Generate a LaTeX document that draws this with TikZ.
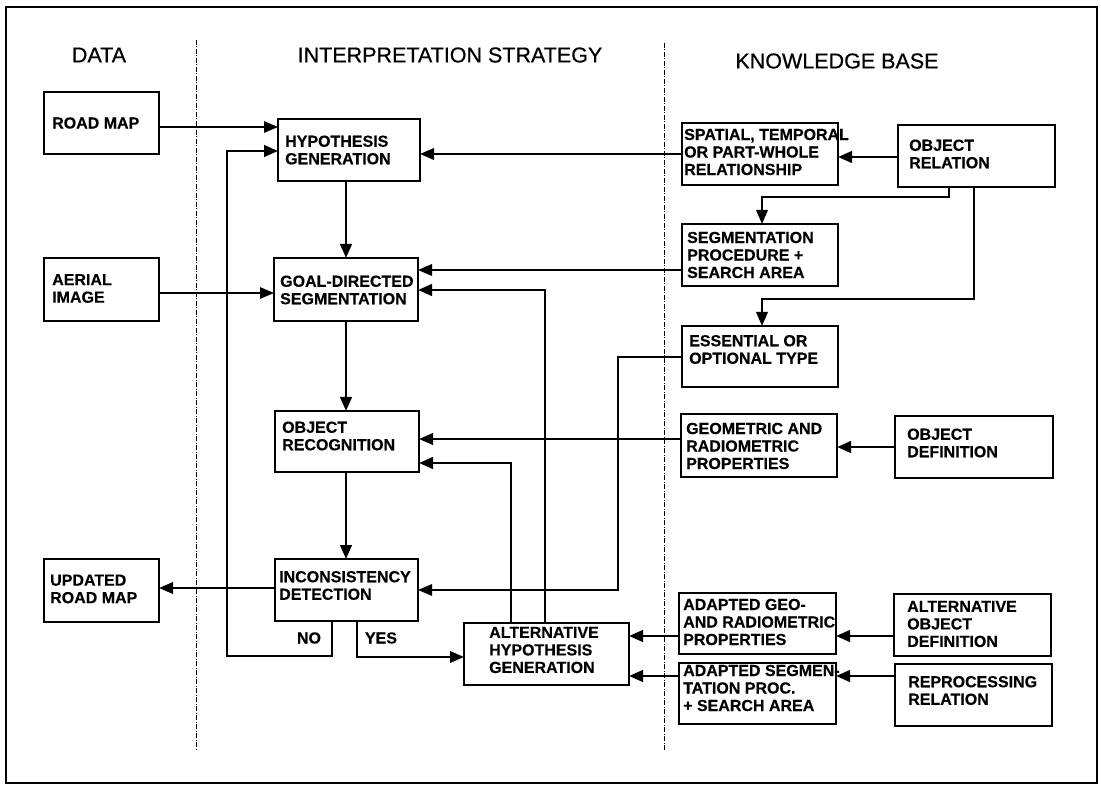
\documentclass[tikz,border=0pt]{standalone}
\usepackage{fontspec}
\setmainfont{Liberation Sans}
\newfontfamily\hdrfont{Liberation Sans}[FakeBold=0.6]
\newfontfamily\lblfont{Liberation Sans}[BoldFeatures={FakeBold=0.3}]
\usetikzlibrary{arrows.meta}

\tikzset{
  box/.style={draw, rectangle, line width=2pt, inner sep=0pt, outer sep=0pt},
  lbl/.style={font=\fontsize{16}{17.5}\selectfont\lblfont\bfseries, align=left, inner sep=0pt, anchor=west},
  tag/.style={font=\fontsize{16}{17.5}\selectfont\lblfont\bfseries, inner sep=0pt},
  hdr/.style={font=\fontsize{21.5}{24}\selectfont\hdrfont, inner sep=0pt},
  tip/.style={-{Triangle[length=14pt,width=11.5pt]}},
  wire/.style={tip, line width=1.4pt},
  wirem/.style={tip, line width=2pt},
  wireb/.style={tip, line width=2.8pt},
  divider/.style={line width=0.8pt, dash pattern=on 5pt off 1.5pt on 1pt off 1.5pt},
}

\begin{document}
\begin{tikzpicture}[x=1pt, y=-1pt]
\useasboundingbox (0,0) rectangle (1101,786);
\fill[white] (0,0) rectangle (1101,786);

% outer frame
\draw[line width=2.6pt] (6,7) rectangle (1097,783);

% column headings and separators
\node[hdr] (h-data) at (99,55) {DATA};
\node[hdr] (h-strat) at (450,55) {INTERPRETATION STRATEGY};
\node[hdr] (h-kb) at (837,61) {KNOWLEDGE BASE};
\draw[divider] (196,40) -- (196,750);
\draw[divider] (664,43) -- (664,750);

% data column
\node[box, minimum width=115pt, minimum height=62pt] (roadmap) at (101.5,123) {};
\node[box, minimum width=115pt, minimum height=63pt] (aerial) at (101.5,289.5) {};
\node[box, minimum width=115pt, minimum height=63pt] (updated) at (101.5,590.5) {};

% interpretation strategy column
\node[box, minimum width=142pt, minimum height=62pt] (hyp) at (349,150) {};
\node[box, minimum width=144pt, minimum height=63pt] (goal) at (346,289.5) {};
\node[box, minimum width=144pt, minimum height=61pt] (objrec) at (347,441.5) {};
\node[box, minimum width=143pt, minimum height=62pt] (incons) at (346.5,590) {};
\node[box, minimum width=165pt, minimum height=62pt] (alt) at (546.5,654) {};

% knowledge base column
\node[box, minimum width=156pt, minimum height=62pt] (spatial) at (760,154) {};
\node[box, minimum width=156pt, minimum height=62pt] (segproc) at (760,255) {};
\node[box, minimum width=156pt, minimum height=61pt] (essential) at (760,356.5) {};
\node[box, minimum width=156pt, minimum height=63pt] (geometric) at (759,445.5) {};
\node[box, minimum width=157pt, minimum height=62pt] (objrel) at (976.5,156) {};
\node[box, minimum width=158pt, minimum height=62pt] (objdef) at (974,447) {};
\node[box, minimum width=157pt, minimum height=61pt] (adgeo) at (757.5,623.5) {};
\node[box, minimum width=157pt, minimum height=61pt] (adseg) at (757.5,693.5) {};
\node[box, minimum width=157pt, minimum height=62pt] (altobj) at (972.5,625) {};
\node[box, minimum width=157pt, minimum height=62pt] (reproc) at (973.5,695) {};

% box labels
\node[lbl] (roadmap-t) at (52,123) {ROAD MAP};
\node[lbl] (aerial-t) at (52,288.5) {AERIAL\\IMAGE};
\node[lbl] (updated-t) at (50,589) {UPDATED\\ROAD MAP};
\node[lbl] (hyp-t) at (285,150) {HYPOTHESIS\\GENERATION};
\node[lbl] (goal-t) at (280,290) {GOAL-DIRECTED\\SEGMENTATION};
\node[lbl] (objrec-t) at (282,436) {OBJECT\\RECOGNITION};
\node[lbl] (incons-t) at (279,585.5) {INCONSISTENCY\\DETECTION};
\node[lbl] (alt-t) at (489,650) {ALTERNATIVE\\HYPOTHESIS\\GENERATION};
\node[lbl] (spatial-t) at (684,152) {SPATIAL, TEMPORAL\\OR PART-WHOLE\\RELATIONSHIP};
\node[lbl] (segproc-t) at (687,255) {SEGMENTATION\\PROCEDURE +\\SEARCH AREA};
\node[lbl] (essential-t) at (689,349.5) {ESSENTIAL OR\\OPTIONAL TYPE};
\node[lbl] (geometric-t) at (686,446) {GEOMETRIC AND\\RADIOMETRIC\\PROPERTIES};
\node[lbl] (objrel-t) at (909,154) {OBJECT\\RELATION};
\node[lbl] (objdef-t) at (907,443) {OBJECT\\DEFINITION};
\node[lbl] (adgeo-t) at (683,622) {ADAPTED GEO-\\AND RADIOMETRIC\\PROPERTIES};
\node[lbl] (adseg-t) at (683,688) {ADAPTED SEGMEN-\\TATION PROC.\\+ SEARCH AREA};
\node[lbl] (altobj-t) at (907,624) {ALTERNATIVE\\OBJECT\\DEFINITION};
\node[lbl] (reproc-t) at (908,690.5) {REPROCESSING\\RELATION};
\node[tag] (no) at (309,638) {NO};
\node[tag] (yes) at (381,638) {YES};

% data inputs and output
\draw[wire] (roadmap.east |- 0,127) -- (hyp.west |- 0,127);
\draw[wire] (aerial.east |- 0,293) -- (goal.west |- 0,293);
\draw[wirem] (incons.west |- 0,588) -- (updated.east |- 0,588);

% main processing chain
\draw[wireb] (hyp.south -| 346,0) -- (goal.north -| 346,0);
\draw[wireb] (goal.south -| 346,0) -- (objrec.north -| 346,0);
\draw[wireb] (objrec.south -| 346,0) -- (incons.north -| 346,0);

% decision branches
\draw[wireb] (incons.south -| 332,0) -- (332,656) -- (227,656) -- (227,151) -- (hyp.west |- 0,151);
\draw[wirem] (incons.south -| 357,0) -- (357,657) -- (alt.west |- 0,657);

% feedback from alternative hypothesis
\draw[wireb] (alt.north -| 545,0) -- (545,290) -- (goal.east |- 0,290);
\draw[wireb] (alt.north -| 511,0) -- (511,463) -- (objrec.east |- 0,463);

% knowledge base to strategy
\draw[wirem] (spatial.west |- 0,154) -- (hyp.east |- 0,154);
\draw[wirem] (segproc.west |- 0,270) -- (goal.east |- 0,270);
\draw[wirem] (geometric.west |- 0,439) -- (objrec.east |- 0,439);
\draw[wire] (essential.west |- 0,357) -- (618,357) -- (618,590) -- (incons.east |- 0,590);
\draw[wireb] (adgeo.west |- 0,636) -- (alt.east |- 0,636);
\draw[wireb] (adseg.west |- 0,676) -- (alt.east |- 0,676);

% within the knowledge base
\draw[wireb] (objrel.west |- 0,157) -- (spatial.east |- 0,157);
\draw[wirem] (objrel.south -| 949,0) -- (949,197) -- (762,197) -- (segproc.north -| 762,0);
\draw[wirem] (objrel.south -| 974,0) -- (974,299) -- (762,299) -- (essential.north -| 762,0);
\draw[wireb] (objdef.west |- 0,447) -- (geometric.east |- 0,447);
\draw[wireb] (altobj.west |- 0,636) -- (adgeo.east |- 0,636);
\draw[wireb] (reproc.west |- 0,676) -- (adseg.east |- 0,676);
\end{tikzpicture}
\end{document}
